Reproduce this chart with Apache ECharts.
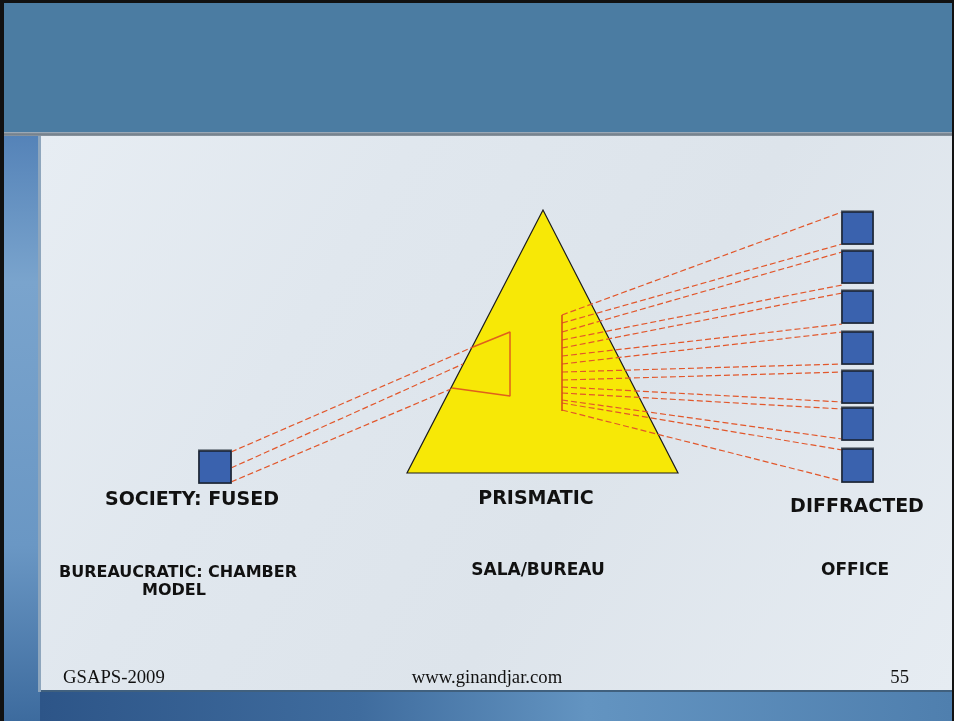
<!DOCTYPE html>
<html>
<head>
<meta charset="utf-8">
<script src="https://cdn.jsdelivr.net/npm/echarts@6/dist/echarts.min.js"></script>
<style>
  html, body { margin: 0; padding: 0; background: #111; }
  #chart { width: 954px; height: 721px; }
</style>
</head>
<body>
<div id="chart"></div>
<script>
// slide coordinates (x right, y down), one unit = one pixel of the slide
const prism = [543, 210, 407, 473, 678, 473];
const fusedBox = [[199, 451, 231, 483]];
const officeBoxes = [
    [842, 212, 873, 244],
    [842, 251, 873, 283],
    [842, 291, 873, 323],
    [842, 332, 873, 364],
    [842, 371, 873, 403],
    [842, 408, 873, 440],
    [842, 449, 873, 482],
];
const incidentRays = [
    [231, 452, 473, 347],
    [231, 468, 463, 364],
    [231, 482, 451, 389],
];
const refractFace = [[473, 347], [510, 332], [510, 396], [452, 388]];
const sourceLine = [562, 315, 562, 411];
const rayStartY = [315, 323, 332, 340, 348, 356, 364, 372, 380, 387, 393, 400, 403, 410];
const rayEndY = [212, 244, 252, 285, 293, 324, 332, 364, 372, 402, 409, 439, 450, 481];
const sourceX = 562;
const targetX = 842;

const labels = ['SOCIETY: FUSED', 'PRISMATIC', 'DIFFRACTED'];
const subLabels = ['BUREAUCRATIC: CHAMBER', 'MODEL', 'SALA/BUREAU', 'OFFICE'];
const footer = ['GSAPS-2009', 'www.ginandjar.com', '55'];

const RED = '#e2572b';

const chart = echarts.init(document.getElementById('chart'), null, { renderer: 'canvas' });

const diffractedRays = rayStartY.map((y, i) => [sourceX, y, targetX, rayEndY[i]]);

function segment(params, api) {
    const a = api.coord([api.value(0), api.value(1)]);
    const b = api.coord([api.value(2), api.value(3)]);
    return {
        type: 'line',
        shape: { x1: a[0], y1: a[1], x2: b[0], y2: b[1] },
        style: { stroke: RED, lineWidth: 1.2, lineDash: [6, 3] },
    };
}

function box(params, api) {
    const a = api.coord([api.value(0), api.value(1)]);
    const b = api.coord([api.value(2), api.value(3)]);
    return {
        type: 'group',
        children: [
            {
                type: 'rect',
                shape: { x: a[0] - 1, y: a[1] - 2, width: b[0] - a[0] + 2, height: b[1] - a[1] + 3 },
                style: { fill: '#8a939c' },
            },
            {
                type: 'rect',
                shape: { x: a[0], y: a[1], width: b[0] - a[0], height: b[1] - a[1] },
                style: { fill: '#3a62ae', stroke: '#18202e', lineWidth: 1.5 },
            },
        ],
    };
}

const bold = (size) => 'bold ' + size + 'px "DejaVu Sans"';
const serif = '18.7px "Liberation Serif"';
const text = (t, x, y, font, align) => ({
    type: 'text',
    x, y,
    style: { text: t, font, fill: '#111', align: align || 'center', verticalAlign: 'middle' },
});

chart.setOption({
    animation: false,
    grid: { left: 0, right: 0, top: 0, bottom: 0 },
    xAxis: { type: 'value', min: 0, max: 954, show: false },
    yAxis: { type: 'value', min: 0, max: 721, inverse: true, show: false },
    graphic: [
        // slide frame
        { type: 'rect', shape: { x: 4, y: 3, width: 948, height: 129 }, style: { fill: '#4b7ca2' } },
        {
            type: 'rect', shape: { x: 4, y: 132, width: 948, height: 4 },
            style: { fill: new echarts.graphic.LinearGradient(0, 0, 0, 1, [
                { offset: 0, color: '#a9b8c6' }, { offset: 0.5, color: '#6f7b86' }, { offset: 1, color: '#8c98a3' },
            ]) },
        },
        {
            type: 'rect', shape: { x: 4, y: 136, width: 36, height: 585 },
            style: { fill: new echarts.graphic.LinearGradient(0, 0, 0, 1, [
                { offset: 0, color: '#5583b8' }, { offset: 0.25, color: '#7aa4cd' },
                { offset: 0.7, color: '#6a97c4' }, { offset: 1, color: '#3d6b9e' },
            ]) },
        },
        {
            type: 'rect', shape: { x: 40, y: 691, width: 912, height: 30 },
            style: { fill: new echarts.graphic.LinearGradient(0, 0, 1, 0, [
                { offset: 0, color: '#2d5588' }, { offset: 0.35, color: '#3f6c9e' },
                { offset: 0.6, color: '#6394c1' }, { offset: 1, color: '#4f7fae' },
            ]) },
        },
        {
            type: 'rect', shape: { x: 38, y: 136, width: 914, height: 556 },
            style: { fill: '#8ea6bd' },
        },
        {
            type: 'rect', shape: { x: 41, y: 136, width: 911, height: 554 },
            style: { fill: new echarts.graphic.LinearGradient(0, 0, 1, 1, [
                { offset: 0, color: '#e7edf3' }, { offset: 0.3, color: '#e0e7ee' },
                { offset: 0.6, color: '#dde4eb' }, { offset: 1, color: '#e6ecf2' },
            ]) },
        },
        { type: 'rect', shape: { x: 41, y: 690, width: 911, height: 2 }, style: { fill: '#40607e' } },
        // labels
        text(labels[0], 192, 500, bold(19)),
        text(labels[1], 536, 499, bold(19)),
        text(labels[2], 857, 507, bold(19)),
        text(subLabels[0], 178, 573, bold(16)),
        text(subLabels[1], 174, 591, bold(16)),
        text(subLabels[2], 538, 571, bold(17)),
        text(subLabels[3], 855, 571, bold(17)),
        text(footer[0], 63, 678, serif, 'left'),
        text(footer[1], 487, 678, serif),
        text(footer[2], 909, 678, serif, 'right'),
    ],
    series: [
        {
            type: 'custom',
            name: 'prism',
            clip: false,
            data: [prism],
            renderItem(params, api) {
                const pts = [0, 2, 4].map((i) => api.coord([api.value(i), api.value(i + 1)]));
                return {
                    type: 'polygon',
                    shape: { points: pts },
                    style: { fill: '#f7e806', stroke: '#1c1c1c', lineWidth: 1.2 },
                };
            },
        },
        {
            type: 'custom',
            name: 'incident',
            clip: false,
            data: incidentRays,
            renderItem: segment,
        },
        {
            type: 'custom',
            name: 'diffracted',
            clip: false,
            data: diffractedRays,
            renderItem: segment,
        },
        {
            type: 'line',
            name: 'face',
            data: refractFace,
            symbol: 'none',
            lineStyle: { color: '#e0601c', width: 1.5 },
        },
        {
            type: 'line',
            name: 'source',
            data: [[sourceLine[0], sourceLine[1]], [sourceLine[2], sourceLine[3]]],
            symbol: 'none',
            lineStyle: { color: '#d44a14', width: 1.5 },
        },
        {
            type: 'custom',
            name: 'fused',
            clip: false,
            data: fusedBox,
            renderItem: box,
        },
        {
            type: 'custom',
            name: 'offices',
            clip: false,
            data: officeBoxes,
            renderItem: box,
        },
    ],
});
</script>
</body>
</html>
